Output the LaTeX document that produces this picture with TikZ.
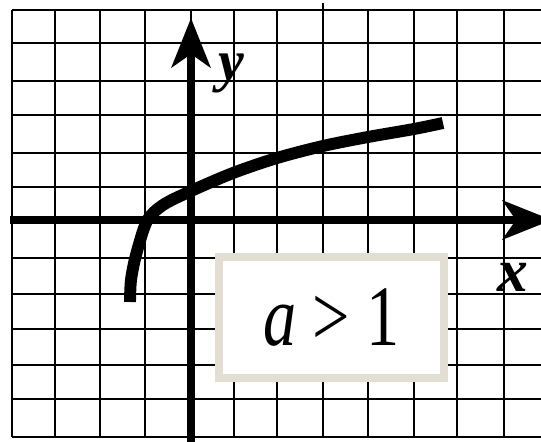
\documentclass[tikz,border=0pt]{standalone}
\usepackage{graphicx}
\usepackage{fontspec}
\setmainfont{Liberation Serif}
\usetikzlibrary{arrows.meta}
\definecolor{boxgray}{HTML}{E3DED4}

\begin{document}
\begin{tikzpicture}[x=0.02cm,y=-0.02cm,
	gridline/.style={line width=1.1pt},
	axis/.style={line width=4.8pt,-{Stealth[length=28pt,width=22pt,inset=7.5pt]}},
	curve/.style={line width=6.8pt},
	axislabel/.style={inner sep=0pt,anchor=base,font=\fontsize{33}{33}\selectfont\bfseries\itshape},
	casebox/.style={draw=boxgray,line width=4.5pt,fill=white,minimum width=4.5cm,minimum height=2.42cm,inner sep=0pt,font=\fontsize{49}{50}\selectfont}]
	\useasboundingbox (0,0) rectangle (541,442);
	\fill[white] (0,0) rectangle (541,442);
	\foreach \gx in {12,55,100,145,191,234,277,368,414,457,504}
		\draw[gridline] (\gx,10) -- (\gx,437);
	\draw[gridline] (323,3) -- (323,437);
	\foreach \gy in {10,43,81,115,153,187,220,258,294,329,365,399,437}
		\draw[gridline] (12,\gy) -- (541,\gy);
	\coordinate (xstart) at (10,220);
	\coordinate (xend) at (552,220);
	\coordinate (ystart) at (191,442);
	\coordinate (yend) at (191,18);
	\draw[axis] (xstart) -- (xend);
	\draw[axis] (ystart) -- (yend);
	\draw[curve] plot[smooth] coordinates {(130,302) (131,280) (136,255) (147,221) (163,205) (191,191) (233,173) (277,158) (323,146) (368,137) (414,129) (443,123)};
	\node[casebox] (cond) at (331.5,317.5) {\scalebox{0.77}[1]{\textit{a} > 1}};
	\node[axislabel] (ylab) at (231,81) {y};
	\node[axislabel,font=\fontsize{35}{35}\selectfont\bfseries\itshape] (xlab) at (513,292) {x};
\end{tikzpicture}
\end{document}
